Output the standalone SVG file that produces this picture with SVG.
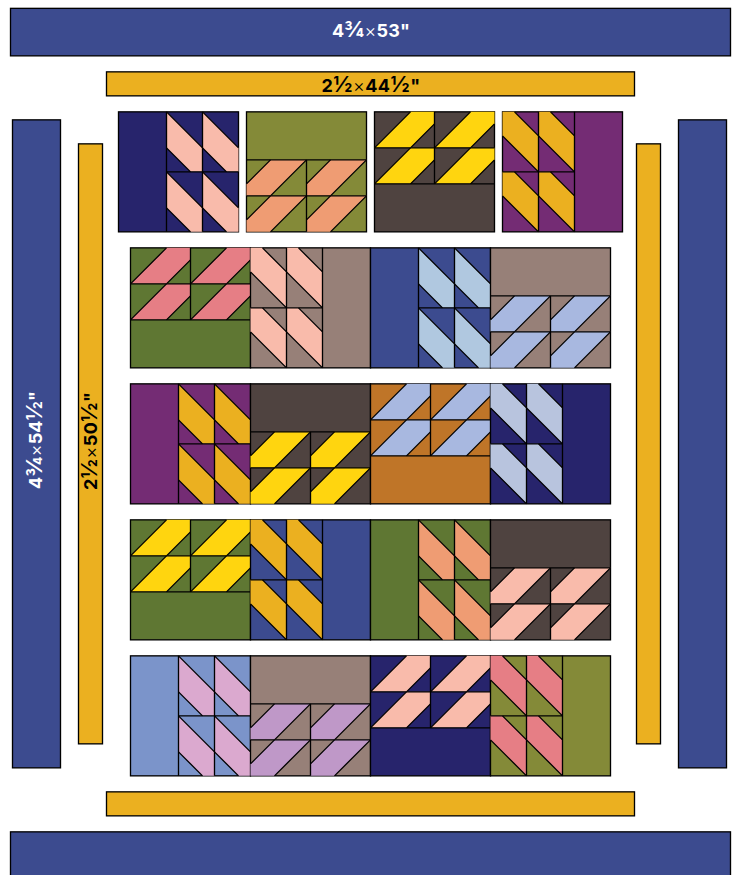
<svg xmlns="http://www.w3.org/2000/svg" xmlns:xlink="http://www.w3.org/1999/xlink" width="734" height="875" viewBox="0 0 734 875">
<style>
.ln{fill:none;stroke:#000;stroke-width:1.33}
.base{fill:currentColor;stroke:#000;stroke-width:1.33}
.blue{fill:#3C4B8F;stroke:#000;stroke-width:1.33}
.gold{fill:#EBB020;stroke:#000;stroke-width:1.33}
text{font-family:Inter,"Liberation Sans",sans-serif;font-weight:700;font-size:18px;text-anchor:middle;letter-spacing:.2px}
.w{fill:#fff}
.k{fill:#000;letter-spacing:.5px}
.x{font-weight:300}
.f{font-size:22px;font-weight:600}
</style>
<defs>
<g id="ua"><polygon points="0,0 36,36 36,60 24,60 0,36"/><path class="ln" d="M0 0L36 36M0 36L24 60"/></g>
<g id="ub"><polygon points="0,0 12,0 36,24 36,60 0,24"/><path class="ln" d="M12 0L36 24M0 24L36 60"/></g>
<g id="uc"><polygon points="0,24 24,0 60,0 24,36 0,36"/><path class="ln" d="M0 24L24 0M24 36L60 0"/></g>
<g id="ud"><polygon points="36,0 60,0 60,12 36,36 0,36"/><path class="ln" d="M0 36L36 0M36 36L60 12"/></g>
<g id="A"><rect class="base" width="120" height="120"/><use href="#ua" x="48" y="0"/><use href="#ua" x="84" y="0"/><use href="#ua" x="48" y="60"/><use href="#ua" x="84" y="60"/><path class="ln" d="M48 0V120M84 0V120M48 60H120"/></g>
<g id="B"><rect class="base" width="120" height="120"/><use href="#ub" x="0" y="0"/><use href="#ub" x="36" y="0"/><use href="#ub" x="0" y="60"/><use href="#ub" x="36" y="60"/><path class="ln" d="M36 0V120M72 0V120M0 60H72"/></g>
<g id="C"><rect class="base" width="120" height="120"/><use href="#uc" x="0" y="48"/><use href="#uc" x="60" y="48"/><use href="#uc" x="0" y="84"/><use href="#uc" x="60" y="84"/><path class="ln" d="M0 48H120M0 84H120M60 48V120"/></g>
<g id="D"><rect class="base" width="120" height="120"/><use href="#ud" x="0" y="0"/><use href="#ud" x="60" y="0"/><use href="#ud" x="0" y="36"/><use href="#ud" x="60" y="36"/><path class="ln" d="M0 36H120M0 72H120M60 0V72"/></g>
</defs>
<rect width="734" height="875" fill="#fff"/>
<g transform="translate(0 .35)">
<g id="border-top-outer"><rect class="blue" x="10.5" y="8" width="720" height="47.5"/><text class="w" x="371" y="37"><tspan>4</tspan><tspan class="f">¾</tspan><tspan class="x">×</tspan>53"</text></g>
<g id="border-top-inner"><rect class="gold" x="106.5" y="71.5" width="528" height="24"/><text class="k" x="371" y="92">2<tspan class="f">½</tspan><tspan class="x">×</tspan>44<tspan class="f">½</tspan>"</text></g>
<g id="border-left-outer"><rect class="blue" x="12.5" y="119.5" width="48" height="648"/><text class="w" transform="translate(42 439.5) rotate(-90)">4<tspan class="f">¾</tspan><tspan class="x">×</tspan>54<tspan class="f">½</tspan>"</text></g>
<g id="border-left-inner"><rect class="gold" x="78.5" y="143.5" width="24" height="600"/><text class="k" transform="translate(97 440.5) rotate(-90)">2<tspan class="f">½</tspan><tspan class="x">×</tspan>50<tspan class="f">½</tspan>"</text></g>
<g id="border-right-inner"><rect class="gold" x="636.5" y="143.5" width="24" height="600"/></g>
<g id="border-right-outer"><rect class="blue" x="678.5" y="119.5" width="48" height="648"/></g>
<g id="border-bottom-inner"><rect class="gold" x="106.5" y="791.5" width="528" height="24"/></g>
<g id="border-bottom-outer"><rect class="blue" x="10.5" y="831.5" width="720" height="48"/></g>

<g id="r1b1" transform="translate(118.5 111.5)" color="#27246C" fill="#F9BBAB"><use href="#A"/></g>
<g id="r1b2" transform="translate(246.5 111.5)" color="#848A38" fill="#EF9C73"><use href="#C"/></g>
<g id="r1b3" transform="translate(374.5 111.5)" color="#4F4340" fill="#FFD50F"><use href="#D"/></g>
<g id="r1b4" transform="translate(502.5 111.5)" color="#742C74" fill="#EBB020"><use href="#B"/></g>

<g id="r2b1" transform="translate(130.5 247.5)" color="#5F7733" fill="#E67E85"><use href="#D"/></g>
<g id="r2b2" transform="translate(250.5 247.5)" color="#978078" fill="#F9BBAB"><use href="#B"/></g>
<g id="r2b3" transform="translate(370.5 247.5)" color="#3C4B8F" fill="#B0C8E0"><use href="#A"/></g>
<g id="r2b4" transform="translate(490.5 247.5)" color="#978078" fill="#A8B8E0"><use href="#C"/></g>

<g id="r3b1" transform="translate(130.5 383.5)" color="#742C74" fill="#EBB020"><use href="#A"/></g>
<g id="r3b2" transform="translate(250.5 383.5)" color="#4F4340" fill="#FFD50F"><use href="#C"/></g>
<g id="r3b3" transform="translate(370.5 383.5)" color="#BF7528" fill="#A8B8E0"><use href="#D"/></g>
<g id="r3b4" transform="translate(490.5 383.5)" color="#27246C" fill="#B8C4DE"><use href="#B"/></g>

<g id="r4b1" transform="translate(130.5 519.5)" color="#5F7733" fill="#FFD50F"><use href="#D"/></g>
<g id="r4b2" transform="translate(250.5 519.5)" color="#3C4B8F" fill="#EBB020"><use href="#B"/></g>
<g id="r4b3" transform="translate(370.5 519.5)" color="#5F7733" fill="#EF9C73"><use href="#A"/></g>
<g id="r4b4" transform="translate(490.5 519.5)" color="#4F4340" fill="#F9BBAB"><use href="#C"/></g>

<g id="r5b1" transform="translate(130.5 655.5)" color="#7B94CA" fill="#DBA9CF"><use href="#A"/></g>
<g id="r5b2" transform="translate(250.5 655.5)" color="#978078" fill="#BF98C8"><use href="#C"/></g>
<g id="r5b3" transform="translate(370.5 655.5)" color="#27246C" fill="#F9BBAB"><use href="#D"/></g>
<g id="r5b4" transform="translate(490.5 655.5)" color="#848A38" fill="#E67E85"><use href="#B"/></g>
</g>
</svg>
